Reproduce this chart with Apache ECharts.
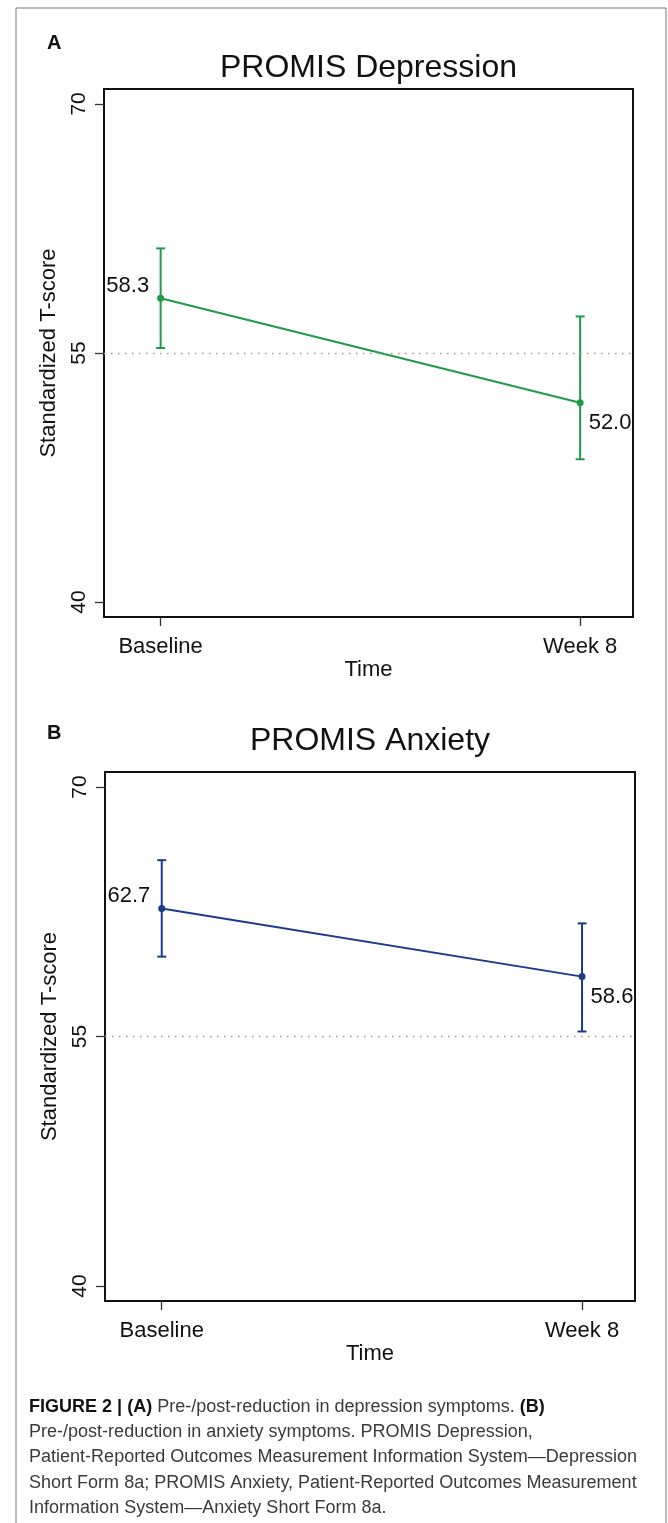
<!DOCTYPE html>
<html>
<head>
<meta charset="utf-8">
<script src="https://cdn.jsdelivr.net/npm/echarts@6/dist/echarts.min.js"></script>
<style>
html,body{margin:0;padding:0;background:#fff;}
#chart{width:668px;height:1523px;}
</style>
</head>
<body>
<div id="chart"></div>
<script>
// ---- data ----
const categories = ['Baseline', 'Week 8'];
const xPositions = [1, 2];
const depMean = [58.3, 52.0];
const depLower = [55.3, 48.6];
const depUpper = [61.3, 57.2];
const anxMean = [62.7, 58.6];
const anxLower = [59.8, 55.3];
const anxUpper = [65.6, 61.8];
const yTicks = [40, 55, 70];
const refValue = 55;
const panelTitles = ['PROMIS Depression', 'PROMIS Anxiety'];
const panelLetters = ['A', 'B'];
const yAxisName = 'Standardized T-score';
const xAxisName = 'Time';
const captionLines = [
  '{b|FIGURE 2 | (A)} Pre-/post-reduction in depression symptoms. {b|(B)}',
  'Pre-/post-reduction in anxiety symptoms. PROMIS Depression,',
  'Patient-Reported Outcomes Measurement Information System\u2014Depression',
  'Short Form 8a; PROMIS Anxiety, Patient-Reported Outcomes Measurement',
  'Information System\u2014Anxiety Short Form 8a.'
];

// ---- styling / layout ----
const FONT = '"Liberation Sans", Arial, Helvetica, sans-serif';
const colors = ['#1f9a4a', '#1b3a8a'];
const grids = [
  {left: 104, top: 89, width: 529, height: 528},
  {left: 105, top: 772, width: 530, height: 529}
];
const xMin = 0.865, xMax = 2.126;
const yMin = 39.1, yMax = 70.9;

const chart = echarts.init(document.getElementById('chart'), null, {renderer: 'canvas'});

function makeAxes(i) {
  const xAxis = {
    type: 'value', gridIndex: i, min: xMin, max: xMax,
    name: xAxisName, nameLocation: 'middle', nameGap: 40,
    nameTextStyle: {fontFamily: FONT, fontSize: 22, color: '#111'},
    axisLine: {show: false},
    axisTick: {show: true, length: 9, inside: false, customValues: xPositions,
               lineStyle: {color: '#333', width: 1.3}},
    axisLabel: {show: true, customValues: xPositions, margin: 19,
                fontFamily: FONT, fontSize: 22, color: '#111',
                formatter: v => categories[xPositions.indexOf(v)] || ''},
    splitLine: {show: false}
  };
  const yAxis = {
    type: 'value', gridIndex: i, min: yMin, max: yMax,
    name: yAxisName, nameLocation: 'middle', nameGap: 44, nameRotate: 90,
    nameTextStyle: {fontFamily: FONT, fontSize: 22, color: '#111'},
    axisLine: {show: false},
    axisTick: {show: true, length: 9, inside: false, customValues: yTicks,
               lineStyle: {color: '#333', width: 1.3}},
    axisLabel: {show: true, customValues: yTicks, rotate: 90, margin: 14,
                fontFamily: FONT, fontSize: 21, color: '#111'},
    splitLine: {show: false}
  };
  return {xAxis, yAxis};
}

function makeSeries(i, mean, lower, upper) {
  const color = colors[i];
  const labelLeft = {show: true, position: 'left', distance: 8, offset: [0, -12],
                     fontFamily: FONT, fontSize: 22, color: '#111'};
  const labelRight = {show: true, position: 'right', distance: 5, offset: [0, 20],
                      fontFamily: FONT, fontSize: 22, color: '#111'};
  const lineData = xPositions.map((x, k) => ({
    value: [x, mean[k]], label: k === 0 ? labelLeft : labelRight
  }));
  const barData = xPositions.map((x, k) => [x, lower[k], upper[k]]);
  return [
    {
      type: 'custom', xAxisIndex: i, yAxisIndex: i, z: 2,
      data: barData, silent: true,
      renderItem: function (params, api) {
        const x = api.value(0);
        const lo = api.coord([x, api.value(1)]);
        const hi = api.coord([x, api.value(2)]);
        const cap = 4.5;
        const st = {stroke: color, lineWidth: 2};
        return {
          type: 'group',
          children: [
            {type: 'line', shape: {x1: lo[0], y1: lo[1], x2: hi[0], y2: hi[1]}, style: st},
            {type: 'line', shape: {x1: lo[0] - cap, y1: lo[1], x2: lo[0] + cap, y2: lo[1]}, style: st},
            {type: 'line', shape: {x1: hi[0] - cap, y1: hi[1], x2: hi[0] + cap, y2: hi[1]}, style: st}
          ]
        };
      }
    },
    {
      type: 'line', xAxisIndex: i, yAxisIndex: i, z: 3,
      data: lineData, symbol: 'circle', symbolSize: 7, showSymbol: true,
      lineStyle: {color: color, width: 2},
      itemStyle: {color: color, borderWidth: 0},
      label: {formatter: p => p.value[1].toFixed(1)},
      emphasis: {disabled: true},
      markLine: {
        silent: true, symbol: ['none', 'none'], label: {show: false},
        lineStyle: {color: '#9a9a9a', type: [1.5, 5.5], width: 1.3},
        data: [{yAxis: refValue}]
      }
    }
  ];
}

const a0 = makeAxes(0), a1 = makeAxes(1);

// caption scaling to match condensed face
const ctx = document.createElement('canvas').getContext('2d');
ctx.font = '18px ' + FONT;
const plain3 = captionLines[2];
const w3 = ctx.measureText(plain3).width;
const capScale = 608 / w3;

const captionGraphics = captionLines.map((t, k) => ({
  type: 'text', x: 29, y: 1407 + k * 25.2, scaleX: capScale, originX: 0,
  style: {
    text: t, font: '18px ' + FONT, fill: '#3a3a3a', textVerticalAlign: 'middle',
    rich: {b: {fontWeight: 'bold', fill: '#111', fontSize: 18, fontFamily: FONT}}
  }
}));

const option = {
  animation: false,
  backgroundColor: '#ffffff',
  grid: grids.map(g => Object.assign({show: true, borderColor: '#111', borderWidth: 2,
                                        backgroundColor: 'transparent', containLabel: false}, g)),
  xAxis: [a0.xAxis, a1.xAxis],
  yAxis: [a0.yAxis, a1.yAxis],
  series: [].concat(makeSeries(0, depMean, depLower, depUpper),
                    makeSeries(1, anxMean, anxLower, anxUpper)),
  graphic: [
    {type: 'rect', shape: {x: 16, y: 8, width: 650, height: 1530},
     style: {fill: 'none', stroke: '#777', lineWidth: 1}, silent: true, z: -1},
    {type: 'text', x: 47, y: 43, style: {text: panelLetters[0], font: 'bold 20px ' + FONT, fill: '#111', textVerticalAlign: 'middle'}},
    {type: 'text', x: 368.5, y: 68, style: {text: panelTitles[0], font: '32px ' + FONT, fill: '#111', textAlign: 'center', textVerticalAlign: 'middle'}},
    {type: 'text', x: 47, y: 733, style: {text: panelLetters[1], font: 'bold 20px ' + FONT, fill: '#111', textVerticalAlign: 'middle'}},
    {type: 'text', x: 370, y: 741, style: {text: panelTitles[1], font: '32px ' + FONT, fill: '#111', textAlign: 'center', textVerticalAlign: 'middle'}}
  ].concat(captionGraphics)
};
chart.setOption(option);
</script>
</body>
</html>
